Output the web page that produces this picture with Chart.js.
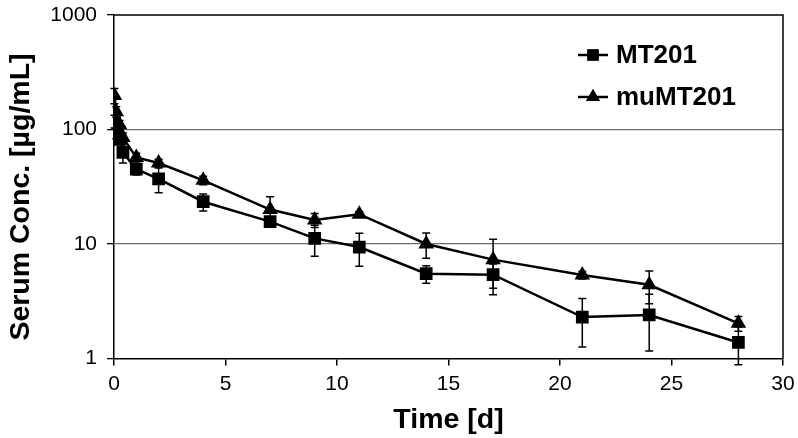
<!DOCTYPE html>
<html>
<head>
<meta charset="utf-8">
<script src="https://cdn.jsdelivr.net/npm/chart.js@4.4.1/dist/chart.umd.min.js"></script>
<style>
html,body{margin:0;padding:0;background:#fff;}
#wrap{width:798px;height:438px;}
</style>
</head>
<body>
<div id="wrap"><canvas id="c" width="798" height="438"></canvas></div>
<script>
const timeDays = [0.02, 0.1, 0.25, 0.4, 1, 2, 4, 7, 9, 11, 14, 17, 21, 24, 28];
const mt201 = [118, 93, 82, 63, 45, 37, 23.4, 15.7, 11.2, 9.4, 5.5, 5.4, 2.3, 2.4, 1.38];
const mt201Err = [15, 10, 8, 12, 5, 9, 4, 1.2, 3.4, 3, 0.95, 1.3, 1.04, 1.24, 0.5];
const muMt201 = [198, 143, 110, 85, 57, 51, 36, 20, 16.2, 18.2, 10, 7.3, 5.35, 4.4, 2.03];
const muMt201Err = [30, 15, 10, 8, 5, 4, 3, 5.8, 2.3, 1, 2.5, 3.7, 0.4, 1.4, 0.3];
const yTicks = [1, 10, 100, 1000];
const xTicks = [0, 5, 10, 15, 20, 25, 30];
const seriesNames = ['MT201', 'muMT201'];
const yTitle = 'Serum Conc. [µg/mL]';
const xTitle = 'Time [d]';

const FONT = '"Liberation Sans", Arial, sans-serif';
const toPts = (xs, ys) => xs.map((x, i) => ({x: x, y: ys[i]}));

const errorBars = {
  id: 'errorBars',
  afterDatasetsDraw(chart) {
    const ctx = chart.ctx, xs = chart.scales.x, ys = chart.scales.y;
    const errs = [mt201Err, muMt201Err];
    ctx.save();
    ctx.strokeStyle = '#000';
    ctx.lineWidth = 1.5;
    chart.data.datasets.forEach((ds, di) => {
      ds.data.forEach((p, i) => {
        const e = errs[di][i];
        const px = xs.getPixelForValue(p.x);
        const top = ys.getPixelForValue(p.y + e);
        const bot = ys.getPixelForValue(Math.max(p.y - e, 0.5));
        ctx.beginPath();
        ctx.moveTo(px, top); ctx.lineTo(px, bot);
        ctx.moveTo(px - 4, top); ctx.lineTo(px + 4, top);
        ctx.moveTo(px - 4, bot); ctx.lineTo(px + 4, bot);
        ctx.stroke();
      });
    });
    ctx.restore();
  }
};

const frameAndLegend = {
  id: 'frameAndLegend',
  afterDraw(chart) {
    const ctx = chart.ctx, a = chart.chartArea;
    ctx.save();
    ctx.strokeStyle = '#000';
    ctx.lineWidth = 1.5;
    ctx.beginPath();
    ctx.moveTo(a.left, a.top); ctx.lineTo(a.right, a.top); ctx.lineTo(a.right, a.bottom);
    ctx.stroke();
    // y-axis title
    ctx.save();
    ctx.translate(21, 197);
    ctx.rotate(-Math.PI / 2);
    ctx.font = 'bold 28.5px ' + FONT;
    ctx.textAlign = 'center';
    ctx.textBaseline = 'middle';
    ctx.fillStyle = '#000';
    ctx.fillText(yTitle, 0, 0);
    ctx.restore();
    // legend
    const styles = ['rect', 'triangle'];
    const rows = [55, 97];
    ctx.font = 'bold 26px ' + FONT;
    ctx.textBaseline = 'middle';
    ctx.fillStyle = '#000';
    rows.forEach((y, i) => {
      ctx.lineWidth = 2.5;
      ctx.beginPath();
      ctx.moveTo(578, y); ctx.lineTo(608, y);
      ctx.stroke();
      Chart.helpers.drawPoint(ctx, {pointStyle: styles[i], radius: 8, borderWidth: 0}, 593, y);
      ctx.fill();
      ctx.fillText(seriesNames[i], 616, y + 1);
    });
    ctx.restore();
  }
};

new Chart(document.getElementById('c'), {
  type: 'scatter',
  data: {
    datasets: [
      {label: seriesNames[0], data: toPts(timeDays, mt201), showLine: true,
       borderColor: '#000', backgroundColor: '#000', borderWidth: 2.5,
       pointStyle: 'rect', pointRadius: 9, pointBorderWidth: 0, pointHoverRadius: 9},
      {label: seriesNames[1], data: toPts(timeDays, muMt201), showLine: true,
       borderColor: '#000', backgroundColor: '#000', borderWidth: 2.5,
       pointStyle: 'triangle', pointRadius: 9, pointBorderWidth: 0, pointHoverRadius: 9}
    ]
  },
  options: {
    responsive: false,
    animation: false,
    events: [],
    layout: {padding: {top: 15, right: 15, left: 0, bottom: 0}},
    plugins: {legend: {display: false}, tooltip: {enabled: false}},
    scales: {
      x: {
        type: 'linear', min: 0, max: 30,
        afterBuildTicks: s => { s.ticks = xTicks.map(v => ({value: v})); },
        afterFit: s => { s.height = 79.5; s.paddingLeft = 0; s.paddingRight = 0; },
        ticks: {color: '#000', font: {family: FONT, size: 21}, padding: 6, maxRotation: 0},
        grid: {drawOnChartArea: false, drawTicks: true, tickLength: 7, color: '#000', lineWidth: 1.5},
        border: {display: true, color: '#000', width: 1.5},
        title: {display: true, text: xTitle, color: '#000',
                font: {family: FONT, size: 28.5, weight: 'bold'},
                padding: {top: 2, bottom: 1}}
      },
      y: {
        type: 'logarithmic', min: 1, max: 1000,
        afterBuildTicks: s => { s.ticks = yTicks.map(v => ({value: v})); },
        afterFit: s => { s.width = 114; s.paddingTop = 0; s.paddingBottom = 0; },
        ticks: {color: '#000', font: {family: FONT, size: 21},
                padding: 10, callback: v => String(v)},
        grid: {
          drawOnChartArea: true, drawTicks: true, tickLength: 7,
          color: c => (c.tick && (c.tick.value === 10 || c.tick.value === 100)) ? '#6e6e6e' : 'rgba(0,0,0,0)',
          tickColor: '#000', lineWidth: 1.3
        },
        border: {display: true, color: '#000', width: 1.5},
        title: {display: false}
      }
    }
  },
  plugins: [errorBars, frameAndLegend]
});
</script>
</body>
</html>
